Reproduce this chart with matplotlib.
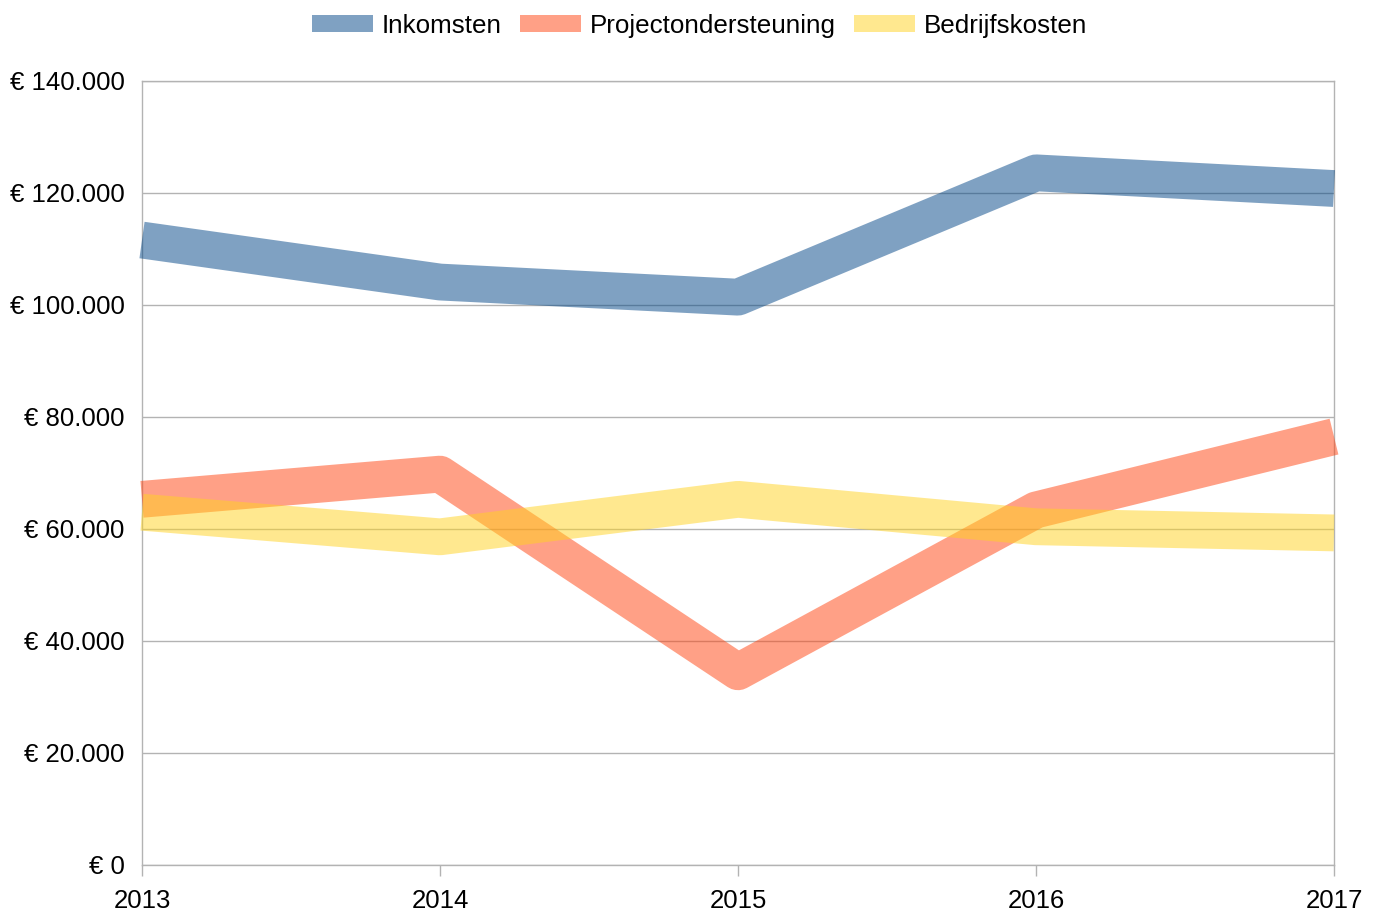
import matplotlib
matplotlib.use("Agg")
import matplotlib.pyplot as plt
from matplotlib.patches import Patch
from matplotlib.ticker import FuncFormatter

years = [2013, 2014, 2015, 2016, 2017]
inkomsten = [111600, 104100, 101400, 123600, 120800]
projectondersteuning = [65300, 69800, 34500, 63400, 76500]
bedrijfskosten = [63000, 58600, 65300, 60400, 59300]

series_names = ["Inkomsten", "Projectondersteuning", "Bedrijfskosten"]
series_values = [inkomsten, projectondersteuning, bedrijfskosten]
colors = ["#004586", "#ff420e", "#ffd320"]

plt.rcParams['font.family'] = ['Liberation Sans', 'DejaVu Sans']

fig = plt.figure(figsize=(13.75, 9.11), dpi=100)
ax = fig.add_axes([142/1375, 46/911, 1192/1375, 784/911])

for name, vals, c in zip(series_names, series_values, colors):
    ax.plot(years, vals, color=c, alpha=0.5, linewidth=26.5,
            solid_joinstyle='round', solid_capstyle='butt', clip_on=False, zorder=3)

ax.set_xlim(2013, 2017)
ax.set_ylim(0, 140000)
ax.set_xticks(years)
ax.set_yticks(range(0, 140001, 20000))

def fmt(v, pos):
    s = f"{int(v):,}".replace(",", ".")
    return f"€ {s}"
ax.yaxis.set_major_formatter(FuncFormatter(fmt))

ax.grid(axis='y', color='#b3b3b3', linewidth=1)
ax.set_axisbelow(True)
for sp in ax.spines.values():
    sp.set_color('#b3b3b3')
    sp.set_linewidth(1)

ax.tick_params(axis='y', length=0, pad=12.5, labelsize=18.5)
ax.tick_params(axis='x', length=8, color='#b3b3b3', width=1, pad=9.5, labelsize=18.5)

handles = [Patch(facecolor=c, alpha=0.5, edgecolor='none') for c in colors]
fig.legend(handles, series_names, loc='center', bbox_to_anchor=(0.5 + 12/1375, 1 - 26/911),
           ncol=3, frameon=False, fontsize=18.7, handlelength=2.35, handleheight=0.62,
           handletextpad=0.33, columnspacing=0.72, borderaxespad=0, borderpad=0)

fig.savefig("out.png", dpi=100)
